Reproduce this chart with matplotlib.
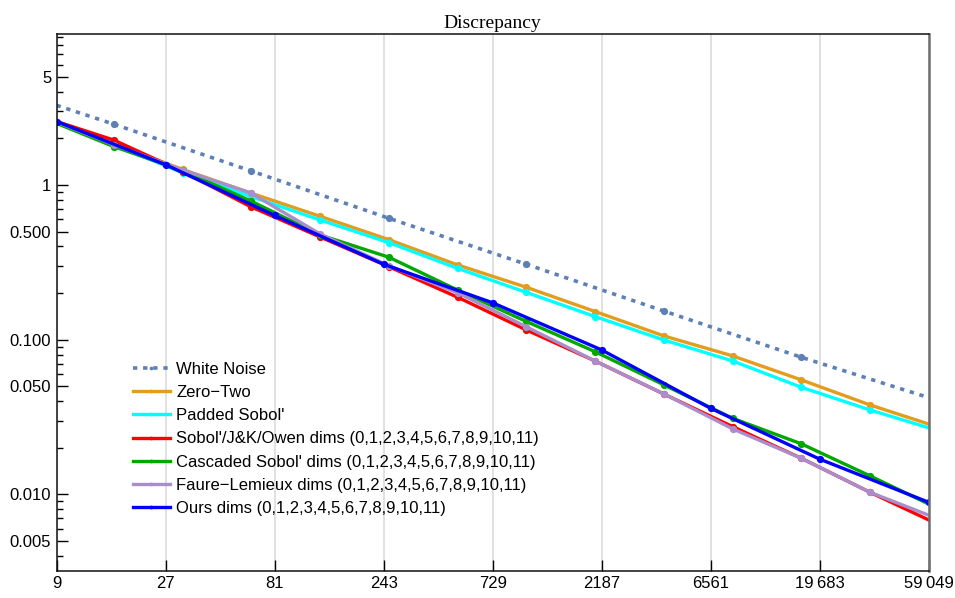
#!/usr/bin/env python3
"""
Discrepancy vs sample count, log-log, for several low-discrepancy samplers.
Saves out.png
"""

import matplotlib
matplotlib.use("Agg")
import matplotlib.pyplot as plt
from matplotlib.ticker import FixedLocator, NullFormatter


# ── Data ──────────────────────────────────────────────────────────────────────

N_POW2 = [8, 16, 32, 64, 128, 256, 512, 1024, 2048, 4096, 8192, 16384, 32768, 65536]
N_POW3 = [9, 27, 81, 243, 729, 2187, 6561, 19683, 59049]
N_POW4 = [4, 16, 64, 256, 1024, 4096, 16384, 65536]

WHITE_NOISE = [4.85, 2.47, 1.23, 0.609, 0.307, 0.153, 0.0769, 0.0402]
ZERO_TWO    = [2.70, 1.85, 1.26, 0.884, 0.627, 0.443, 0.304, 0.218, 0.152, 0.1057, 0.0785, 0.0549, 0.0378, 0.0271]
PADDED      = [2.70, 1.82, 1.20, 0.840, 0.594, 0.424, 0.289, 0.202, 0.141, 0.0995, 0.0728, 0.0492, 0.0351, 0.0257]
SOBOL_OWEN  = [2.72, 1.95, 1.22, 0.720, 0.461, 0.296, 0.188, 0.1155, 0.0728, 0.0445, 0.0274, 0.0171, 0.0103, 0.00636]
CASCADED    = [2.68, 1.77, 1.24, 0.785, 0.475, 0.341, 0.209, 0.131, 0.0836, 0.0510, 0.0310, 0.0212, 0.01315, 0.00805]
FAURE       = [2.73, 1.82, 1.25, 0.884, 0.482, 0.300, 0.201, 0.121, 0.0728, 0.0446, 0.0265, 0.0171, 0.0103, 0.00691]
OURS        = [2.57, 1.35, 0.635, 0.307, 0.173, 0.0858, 0.0360, 0.0169, 0.00889]

DIMS = "dims (0,1,2,3,4,5,6,7,8,9,10,11)"

SERIES = [
    (N_POW4, WHITE_NOISE, "White Noise",               "#5E81B5", True),
    (N_POW2, ZERO_TWO,    "Zero\u2212Two",             "#E39C1C", False),
    (N_POW2, PADDED,      "Padded Sobol'",             "#00FFFF", False),
    (N_POW2, SOBOL_OWEN,  f"Sobol'/J&K/Owen {DIMS}",   "#FF0000", False),
    (N_POW2, CASCADED,    f"Cascaded Sobol' {DIMS}",   "#00A800", False),
    (N_POW2, FAURE,       f"Faure\u2212Lemieux {DIMS}", "#AA8ECB", False),
    (N_POW3, OURS,        f"Ours {DIMS}",              "#0000FF", False),
]

X_TICKS  = N_POW3
X_LABELS = ["9", "27", "81", "243", "729", "2187", "6561", "19\u2009683", "59\u2009049"]
Y_TICKS  = [5, 1, 0.5, 0.1, 0.05, 0.01, 0.005]
Y_LABELS = ["5", "1", "0.500", "0.100", "0.050", "0.010", "0.005"]

SANS  = ["Liberation Sans", "DejaVu Sans"]
SERIF = ["Liberation Serif", "DejaVu Serif"]


# ── Helpers ───────────────────────────────────────────────────────────────────

def minor_ticks():
    out = []
    for dec in [0.001, 0.01, 0.1, 1]:
        for m in [2, 3, 4, 6, 7, 8, 9]:
            out.append(m * dec)
    return out


def style_axes(ax):
    ax.set_xscale("log")
    ax.set_yscale("log")
    ax.set_xlim(9, 59049)
    ax.set_ylim(0.00321, 9.46)

    ax.xaxis.set_major_locator(FixedLocator(X_TICKS))
    ax.xaxis.set_minor_locator(FixedLocator([]))
    ax.set_xticklabels(X_LABELS, family=SANS, fontsize=12)
    ax.yaxis.set_major_locator(FixedLocator(Y_TICKS))
    ax.yaxis.set_minor_locator(FixedLocator(minor_ticks()))
    ax.yaxis.set_minor_formatter(NullFormatter())
    ax.set_yticklabels(Y_LABELS, family=SANS, fontsize=12)

    ax.xaxis.set_ticks_position("bottom")
    ax.yaxis.set_ticks_position("left")
    ax.tick_params(axis="both", which="major", direction="in", length=8, width=1, pad=4)
    ax.tick_params(axis="both", which="minor", direction="in", length=4.5, width=1)

    ax.grid(True, axis="x", which="major", color="#dedede", lw=1.3)
    ax.set_axisbelow(True)

    for side in ["left", "bottom", "top"]:
        ax.spines[side].set_color("#111111")
        ax.spines[side].set_linewidth(1.1)
    ax.spines["right"].set_color("#707070")
    ax.spines["right"].set_linewidth(1.8)


# ── Main ──────────────────────────────────────────────────────────────────────

def main():
    fig = plt.figure(figsize=(9.55, 5.98), dpi=100)
    ax = fig.add_axes([0.0594, 0.0457, 0.9129, 0.8975])

    for xs, ys, label, colour, dotted in SERIES:
        if dotted:
            ax.plot(xs, ys, color=colour, lw=2.6, ls=(0, (1.2, 1.6)),
                    marker="o", ms=4.2, label=label)
        else:
            ax.plot(xs, ys, color=colour, lw=2.4, marker="o", ms=4.2, label=label)

    style_axes(ax)
    ax.set_title("Discrepancy", family=SERIF, fontsize=14, pad=4)

    ax.legend(loc="upper left", bbox_to_anchor=(0.0875, 0.389),
              frameon=False, borderpad=0, borderaxespad=0,
              handlelength=2.2, handletextpad=0.4, labelspacing=0.49,
              numpoints=1, markerscale=0.4,
              prop={"family": SANS, "size": 12})

    fig.savefig("out.png", dpi=100)
    plt.close(fig)


if __name__ == "__main__":
    main()
